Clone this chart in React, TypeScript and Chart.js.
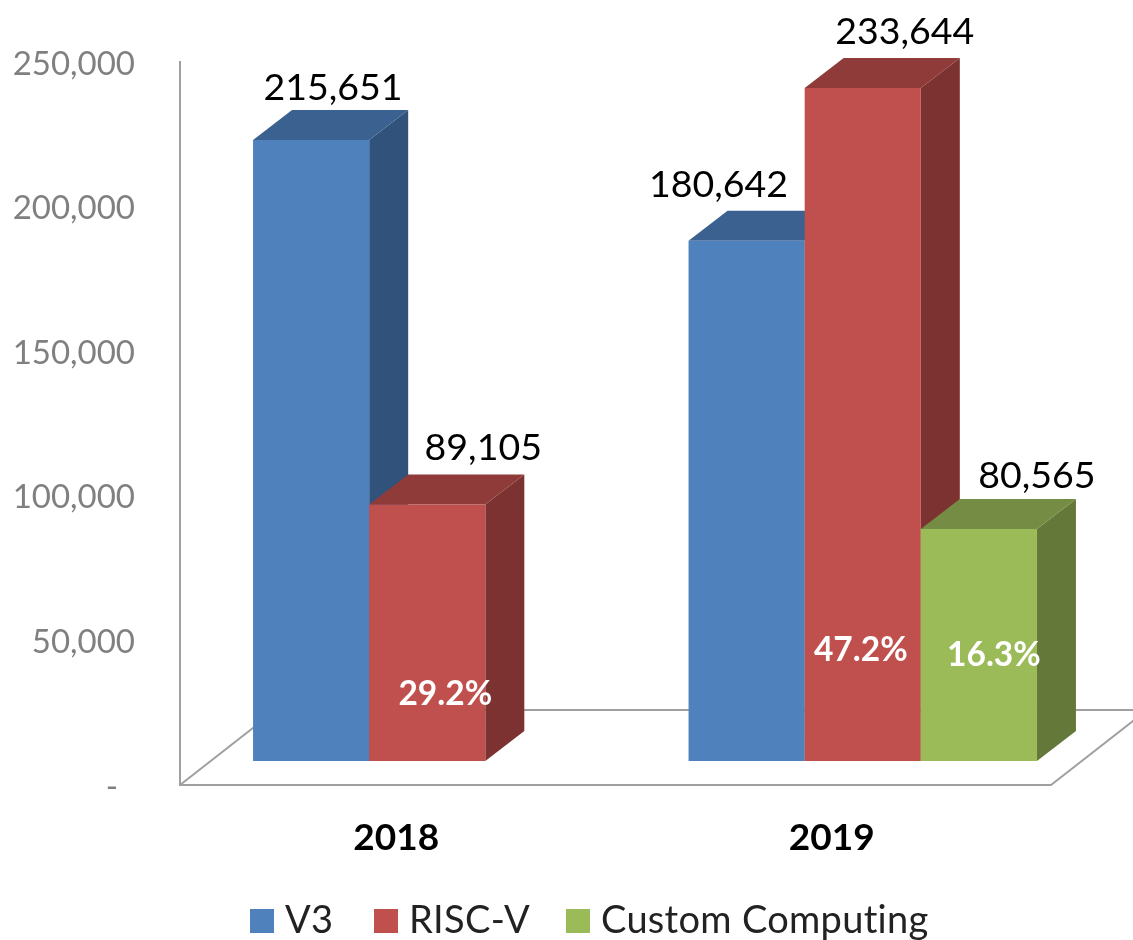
import React, { useEffect, useRef } from "react";
import { Chart, registerables } from "chart.js";

Chart.register(...registerables);

const categories = ["2018", "2019"];
const v3Values = [215651, 180642];
const riscvValues = [89105, 233644];
const customValues = [null, 80565];
const seriesNames = ["V3", "RISC-V", "Custom Computing"];
const yTicks = [0, 50000, 100000, 150000, 200000, 250000];

// share labels: series index, category index, text, value height at which it sits, x shift from bar centre
const shareSeries = [1, 1, 2];
const shareCategory = [0, 1, 1];
const shareText = ["29.2%", "47.2%", "16.3%"];
const shareHeight = [23300, 38600, 36800];
const shareShift = [18, -2, 15];

// shift of each value label from its bar top centre, [series][category]
const valueLabelShift = [[22, -28], [56, 42], [0, 58]];
const valueLabelRaise = [[52, 56], [56, 56], [0, 53]];

const FRONT = ["#4F81BD", "#C0504D", "#9BBB59"];
const TOP = ["#3A618F", "#8F3B39", "#748C43"];
const SIDE = ["#31527A", "#7B3230", "#647839"];
const DEPTH_X = 39;
const DEPTH_Y = 30;
const FLOOR_X = 96;
const FLOOR_Y = 75;
const GROUP_SHIFT = 29.5;
const FONT = "Lato, Carlito, sans-serif";

const fmt = (v: number) => v.toLocaleString("en-US");

const poly = (ctx: CanvasRenderingContext2D, pts: number[][], fill: string) => {
  ctx.beginPath();
  pts.forEach(([x, y], i) => (i ? ctx.lineTo(x, y) : ctx.moveTo(x, y)));
  ctx.closePath();
  ctx.fillStyle = fill;
  ctx.fill();
};

const chart3d = {
  id: "chart3d",
  // Series are painted left to right so each bar's front covers its left neighbour's side.
  beforeDatasetsDraw(chart: any) {
    const { ctx, chartArea: a } = chart;
    ctx.save();
    ctx.strokeStyle = "#a0a0a0";
    ctx.lineWidth = 2;
    ctx.beginPath();
    ctx.moveTo(a.left, a.bottom);
    ctx.lineTo(a.left + FLOOR_X, a.bottom - FLOOR_Y);
    ctx.lineTo(a.right + FLOOR_X, a.bottom - FLOOR_Y);
    ctx.moveTo(a.left, a.bottom);
    ctx.lineTo(a.right, a.bottom);
    ctx.lineTo(a.right + FLOOR_X, a.bottom - FLOOR_Y);
    ctx.stroke();
    ctx.restore();

    ctx.save();
    ctx.translate(GROUP_SHIFT, 0);
    chart.data.datasets.forEach((ds: any, s: number) => {
      const meta = chart.getDatasetMeta(s);
      meta.data.forEach((bar: any, i: number) => {
        if (ds.data[i] == null) return;
        const l = bar.x - bar.width / 2;
        const r = bar.x + bar.width / 2;
        const t = bar.y;
        const b = bar.base;
        poly(ctx, [[r, t], [r + DEPTH_X, t - DEPTH_Y], [r + DEPTH_X, b - DEPTH_Y], [r, b]], SIDE[s]);
        poly(ctx, [[l, t], [l + DEPTH_X, t - DEPTH_Y], [r + DEPTH_X, t - DEPTH_Y], [r, t]], TOP[s]);
      });
      meta.controller.draw();
    });

    ctx.textAlign = "center";
    ctx.textBaseline = "middle";
    chart.data.datasets.forEach((ds: any, s: number) => {
      chart.getDatasetMeta(s).data.forEach((bar: any, i: number) => {
        if (ds.data[i] == null) return;
        ctx.font = `37.5px ${FONT}`;
        ctx.fillStyle = "#000";
        ctx.fillText(fmt(ds.data[i]), bar.x + valueLabelShift[s][i], bar.y - valueLabelRaise[s][i]);
      });
    });
    ctx.font = `bold 33.5px ${FONT}`;
    ctx.fillStyle = "#fff";
    shareText.forEach((txt, k) => {
      const bar = chart.getDatasetMeta(shareSeries[k]).data[shareCategory[k]];
      ctx.fillText(txt, bar.x + shareShift[k], chart.scales.yBars.getPixelForValue(shareHeight[k]));
    });
    ctx.restore();

    // legend
    ctx.save();
    ctx.font = `38px ${FONT}`;
    (ctx as any).letterSpacing = "0.3px";
    ctx.textAlign = "left";
    ctx.textBaseline = "middle";
    const swatchX = [250, 374, 566];
    seriesNames.forEach((name, i) => {
      ctx.fillStyle = FRONT[i];
      ctx.fillRect(swatchX[i], 909, 24, 24);
      ctx.fillStyle = "#222";
      ctx.fillText(name, swatchX[i] + 35, 921);
    });
    ctx.restore();
    return false;
  },
};

export default function App() {
  const ref = useRef<HTMLCanvasElement>(null);
  useEffect(() => {
    const prev = document.body.style.margin;
    document.body.style.margin = "0";
    const chart = new Chart(ref.current as HTMLCanvasElement, {
      type: "bar",
      data: {
        labels: categories,
        datasets: [
          { label: seriesNames[0], data: v3Values, backgroundColor: FRONT[0], yAxisID: "yBars" },
          { label: seriesNames[1], data: riscvValues, backgroundColor: FRONT[1], yAxisID: "yBars" },
          { label: seriesNames[2], data: customValues, backgroundColor: FRONT[2], yAxisID: "yBars" },
        ],
      } as any,
      options: {
        animation: false,
        responsive: false,
        layout: { padding: { top: 62, right: 82, left: 0, bottom: 0 } },
        datasets: { bar: { barPercentage: 1, categoryPercentage: 0.8 } as any },
        plugins: { legend: { display: false }, tooltip: { enabled: false }, title: { display: false } },
        scales: {
          x: {
            grid: { display: false },
            border: { display: false },
            afterFit: (s: any) => { s.height = 155; },
            ticks: { color: "#000", padding: 23, labelOffset: -1.5, font: { family: FONT, size: 37, weight: "bold" }, maxRotation: 0 },
          },
          y: {
            min: 0,
            max: 250000,
            afterFit: (s: any) => { s.width = 180; },
            afterBuildTicks: (s: any) => { s.ticks = yTicks.map((value) => ({ value })); },
            grid: { display: false },
            border: { display: true, color: "#a0a0a0", width: 2 },
            ticks: {
              color: "#808080",
              padding: 37,
              labelOffset: 2,
              font: { family: FONT, size: 33 },
              callback: (v: any) => (v === 0 ? "-  " : fmt(Number(v))),
            },
          },
          yBars: {
            display: false,
            position: "left",
            min: -8333,
            max: 242708,
          },
        },
      } as any,
      plugins: [chart3d],
    });
    return () => {
      chart.destroy();
      document.body.style.margin = prev;
    };
  }, []);
  return <canvas ref={ref} width={1133} height={940} style={{ display: "block" }} />;
}
